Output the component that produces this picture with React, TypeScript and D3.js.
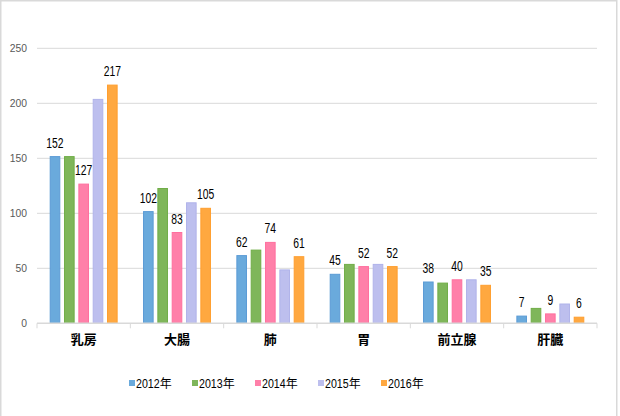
import React from "react";
import * as d3 from "d3";

const categories = ["乳房", "大腸", "肺", "胃", "前立腺", "肝臓"];
const years = ["2012年", "2013年", "2014年", "2015年", "2016年"];
const v2012 = [152, 102, 62, 45, 38, 7];
const v2013 = [152, 123, 67, 54, 37, 14];
const v2014 = [127, 83, 74, 52, 40, 9];
const v2015 = [204, 110, 49, 54, 40, 18];
const v2016 = [217, 105, 61, 52, 35, 6];
const labeledYears = ["2012年", "2014年", "2016年"];
const yTicks = [0, 50, 100, 150, 200, 250];

const series = [v2012, v2013, v2014, v2015, v2016];
const fills = ["#6AAADC", "#7FB65A", "#FF80A9", "#BDBFEE", "#FFA840"];
const strokes = ["#5B9BD5", "#70AD47", "#FF6F9E", "#B0B3EA", "#FF9E2E"];

export default function App() {
  const W = 620, H = 416;
  const left = 37, right = 597, top = 48.3, bottom = 323.3;
  const x = d3.scaleBand<string>().domain(categories).range([left, right]).padding(0);
  const bw = x.bandwidth();
  const inner = d3.scaleBand<string>().domain(years).range([12.7, bw - 12.7]).paddingInner(0.26);
  const y = d3.scaleLinear().domain([0, 250]).range([bottom, top]);
  const numFont = "'Liberation Sans', Arial, sans-serif";

  return (
    <div style={{ position: "fixed", left: 0, top: 0 }}>
      <svg width={W} height={H} style={{ display: "block", background: "#fff" }}>
        <rect x={0.75} y={0.75} width={616} height={430} fill="#fff" stroke="#D9D9D9" strokeWidth={1.5} />
        {yTicks.map((t) => (
          <g key={t}>
            {t > 0 && (
              <line x1={left} x2={right} y1={y(t)} y2={y(t)} stroke="#D9D9D9" strokeWidth={1} />
            )}
            <g transform={`translate(27,${y(t)}) scale(0.9,1)`}>
              <text x={0} y={0} dy="0.35em" textAnchor="end" fontSize={11.5} fill="#595959"
                fontFamily={numFont}>{t}</text>
            </g>
          </g>
        ))}
        {series.map((vals, si) =>
          categories.map((c, ci) => {
            const bx = (x(c) as number) + (inner(years[si]) as number);
            const by = y(vals[ci]);
            return (
              <rect key={`${si}-${ci}`} x={bx + 0.5} y={by + 0.5} width={inner.bandwidth() - 1}
                height={Math.max(0, y(0) - by - 0.5)} fill={fills[si]} stroke={strokes[si]} strokeWidth={1} />
            );
          })
        )}
        <line x1={left} x2={right} y1={bottom} y2={bottom} stroke="#D9D9D9" strokeWidth={1.5} />
        {d3.range(categories.length + 1).map((i) => {
          const tx = left + i * bw;
          return <line key={i} x1={tx} x2={tx} y1={bottom} y2={bottom + 5} stroke="#D9D9D9" strokeWidth={1} />;
        })}
        {series.map((vals, si) =>
          labeledYears.includes(years[si])
            ? categories.map((c, ci) => {
                const cx = (x(c) as number) + (inner(years[si]) as number) + inner.bandwidth() / 2;
                return (
                  <g key={`l${si}-${ci}`} transform={`translate(${cx},${y(vals[ci]) - 8.5}) scale(0.74,1)`}>
                    <text x={0} y={0} textAnchor="middle" fontSize={14} fill="#000" fontFamily={numFont}>
                      {vals[ci]}
                    </text>
                  </g>
                );
              })
            : null
        )}
        {categories.map((c) => (
          <text key={c} x={(x(c) as number) + bw / 2} y={344} textAnchor="middle" fontSize={13}
            fontWeight="bold" fill="#000" fontFamily="'Noto Sans CJK JP', sans-serif">{c}</text>
        ))}
        {years.map((yr, i) => {
          const lx = 129 + i * 63;
          return (
            <g key={yr}>
              <rect x={lx} y={380} width={6} height={6} fill={fills[i]} />
              <g transform={`translate(${lx + 7},387.5) scale(0.82,1)`}>
                <text x={0} y={0} fontSize={13} fill="#000" fontFamily={numFont}>{yr.slice(0, 4)}</text>
              </g>
              <text x={lx + 7 + 4 * 13 * 0.556 * 0.82} y={387.5} fontSize={12} fill="#000"
                fontFamily="'Noto Sans CJK JP', sans-serif">{yr.slice(4)}</text>
            </g>
          );
        })}
      </svg>
    </div>
  );
}
